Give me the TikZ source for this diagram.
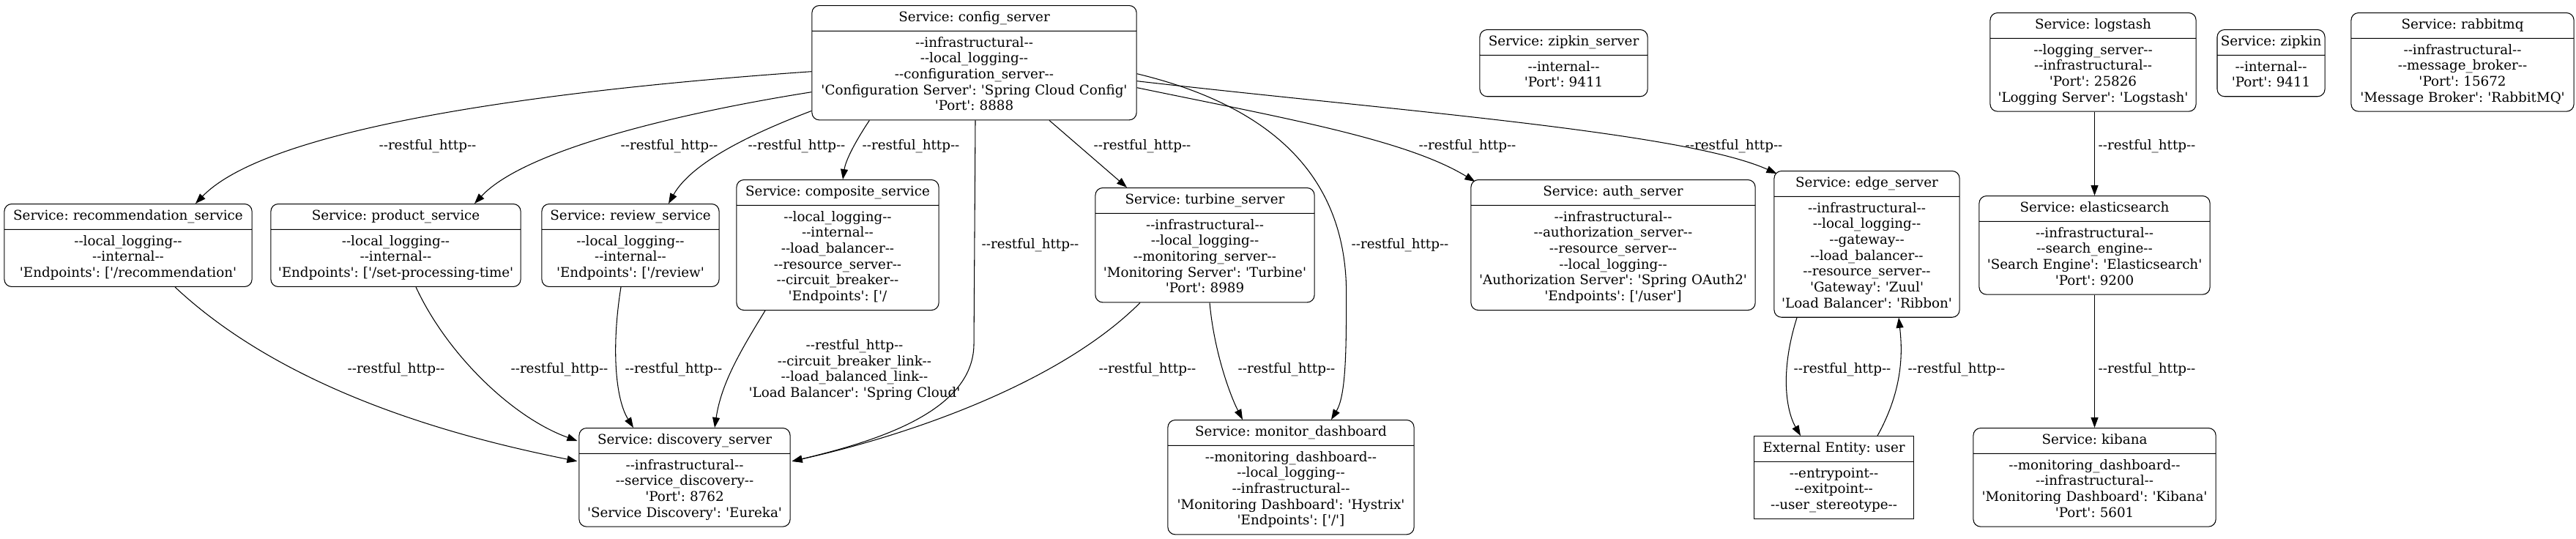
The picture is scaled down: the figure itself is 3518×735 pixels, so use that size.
\documentclass[tikz,border=0pt]{standalone}
\usepackage{fontspec}
\setmainfont{DejaVu Serif}[Ligatures=TeXOff]
\usetikzlibrary{shapes.multipart,arrows.meta,calc}
\newcommand\gvfont{\fontsize{5.2}{6.17}\selectfont\frenchspacing}

\begin{document}
\begin{tikzpicture}[x=0.01cm, y=-0.01cm,
  svc/.style={rectangle split, rectangle split parts=2, draw, line width=0.3pt,
    rounded corners=1mm, anchor=north, align=center, font=\gvfont,
    inner xsep=0.6mm, inner ysep=0.6mm},
  ext/.style={svc, sharp corners},
  lbl/.style={font=\gvfont, inner sep=0pt},
  link/.style={draw, line width=0.3pt, -{Triangle[length=1.4mm,width=1mm]}}]
\def\svc#1#2#3#4#5{\node[svc, text width=#3] (#1) at (#2) {\strut #4\strut\nodepart{two}\strut #5\strut};}
\useasboundingbox (0,0) rectangle (3518,735);

\svc{config}{1330.5,7}{4.31cm}{Service: config\_server}{--infrastructural--\\--local\_logging--\\--configuration\_server--\\'Configuration Server': 'Spring Cloud Config'\\'Port': 8888}
\svc{zipkinserver}{2135.5,40}{2.17cm}{Service: zipkin\_server}{--internal--\\'Port': 9411}
\svc{logstash}{2858.5,17}{2.69cm}{Service: logstash}{--logging\_server--\\--infrastructural--\\'Port': 25826\\'Logging Server': 'Logstash'}
\node[svc, text width=1.43cm, inner xsep=0.2mm] (zipkin) at (3101.5,40) {\strut Service: zipkin\strut\nodepart{two}\strut --internal--\\'Port': 9411\strut};
\svc{rabbitmq}{3363,17}{2.92cm}{Service: rabbitmq}{--infrastructural--\\--message\_broker--\\'Port': 15672\\'Message Broker': 'RabbitMQ'}

\svc{rec}{175,278}{3.26cm}{Service: recommendation\_service}{--local\_logging--\\--internal--\\'Endpoints': ['/recommendation'}
\svc{product}{540.5,278}{3.29cm}{Service: product\_service}{--local\_logging--\\--internal--\\'Endpoints': ['/set-processing-time'}
\svc{review}{861,278}{2.30cm}{Service: review\_service}{--local\_logging--\\--internal--\\'Endpoints': ['/review'}
\svc{composite}{1144,245}{2.64cm}{Service: composite\_service}{--local\_logging--\\--internal--\\--load\_balancer--\\--resource\_server--\\--circuit\_breaker--\\'Endpoints': ['/}
\svc{turbine}{1645.5,256}{2.87cm}{Service: turbine\_server}{--infrastructural--\\--local\_logging--\\--monitoring\_server--\\'Monitoring Server': 'Turbine'\\'Port': 8989}
\svc{auth}{2203,245}{3.76cm}{Service: auth\_server}{--infrastructural--\\--authorization\_server--\\--resource\_server--\\--local\_logging--\\'Authorization Server': 'Spring OAuth2'\\'Endpoints': ['/user']}
\svc{edge}{2549.5,233}{2.41cm}{Service: edge\_server}{--infrastructural--\\--local\_logging--\\--gateway--\\--load\_balancer--\\--resource\_server--\\'Gateway': 'Zuul'\\'Load Balancer': 'Ribbon'}
\svc{elasticsearch}{2860.5,267}{3.03cm}{Service: elasticsearch}{--infrastructural--\\--search\_engine--\\'Search Engine': 'Elasticsearch'\\'Port': 9200}

\svc{discovery}{935,584}{2.76cm}{Service: discovery\_server}{--infrastructural--\\--service\_discovery--\\'Port': 8762\\'Service Discovery': 'Eureka'}
\svc{monitor}{1763,573}{3.24cm}{Service: monitor\_dashboard}{--monitoring\_dashboard--\\--local\_logging--\\--infrastructural--\\'Monitoring Dashboard': 'Hystrix'\\'Endpoints': ['/']}
\node[ext, text width=2.05cm] (user) at (2504.5,595) {\strut External Entity: user\strut\nodepart{two}\strut --entrypoint--\\--exitpoint--\\--user\_stereotype--\strut};
\svc{kibana}{2860.5,584}{3.19cm}{Service: kibana}{--monitoring\_dashboard--\\--infrastructural--\\'Monitoring Dashboard': 'Kibana'\\'Port': 5601}

\draw[link] ($(config.west)+(0,12)$) .. controls +(-259,18) and +(113,-117) .. ($(rec.north)+(92,0)$);
\draw[link] ($(config.west)+(0,40)$) .. controls +(-159,25) and +(72,-77) .. ($(product.north)+(107.5,0)$);
\draw[link] ($(config.south west)+(0,-13)$) .. controls +(-79,30) and +(32,-57) .. ($(review.north)+(52,0)$);
\draw[link] ($(config.south west)+(79,0)$) .. controls +(-18,27) and +(4,-27) .. ($(composite.north)+(7,0)$);
\draw[link] ($(config.south)+(1.5,0)$) -- ++(-2,307) .. controls +(-2,90) and +(118,-28) .. ($(discovery.east)+(2,-22)$);
\draw[link] ($(config.south)+(102.5,0)$) -- ($(turbine.north)+(-106.5,0)$);
\draw[link] ($(config.east)+(0,15)$) .. controls +(208,50) and +(0,-140) .. ++(286,300) .. controls +(0,80) and +(20,-33) .. ($(monitor.north)+(55,0)$);
\draw[link] ($(config.east)+(0,34)$) .. controls +(198,41) and +(-95,-58) .. ($(auth.north west)+(6,3)$);
\draw[link] ($(config.east)+(0,25)$) .. controls +(348,40) and +(-127,-57) .. ($(edge.north west)+(4,4)$);

\draw[link] ($(rec.south)+(64,0)$) .. controls +(161,151) and +(-139,-28) .. ($(discovery.west)+(-2,-22)$);
\draw[link] ($(product.south)+(27.5,0)$) .. controls +(42,91) and +(-89,-32) .. ($(discovery.north west)+(-2,18)$);
\draw[link] ($(review.south)+(-13,0)$) .. controls +(-13,81) and +(-25,-40) .. ($(discovery.north)+(-70,0)$);
\draw[link] ($(composite.south)+(-99,0)$) .. controls +(-35,57) and +(9,-60) .. ($(discovery.north)+(41,0)$);
\draw[link] ($(turbine.south)+(-88.5,0)$) .. controls +(-107,107) and +(169,-38) .. ($(discovery.east)+(2,-22)$);
\draw[link] ($(turbine.south)+(6.5,0)$) .. controls +(6,67) and +(-17,-33) .. ($(monitor.north)+(-66,0)$);

\draw[link] ($(edge.south)+(-95.5,0)$) .. controls +(-24,76) and +(-19,-33) .. ($(user.north)+(-45.5,0)$);
\draw[link] ($(user.north)+(59.5,0)$) .. controls +(36,-65) and +(5,45) .. ($(edge.south)+(43.5,0)$);
\draw[link] (elasticsearch.north |- logstash.south) -- (elasticsearch.north);
\draw[link] (elasticsearch.south) -- (kibana.north);

\node[lbl] (lrec) at (584,200) {--restful\_http--};
\node[lbl] (lproduct) at (914,200) {--restful\_http--};
\node[lbl] (lreview) at (1088,200) {--restful\_http--};
\node[lbl] (lcomposite) at (1244,200) {--restful\_http--};
\node[lbl] (lturbine) at (1560,200) {--restful\_http--};
\node[lbl] (lauth) at (2004,200) {--restful\_http--};
\node[lbl] (ledge) at (2368,200) {--restful\_http--};
\node[lbl] (llogstash) at (2932,200) {--restful\_http--};
\node[lbl] (lconfigdisc) at (1407,335) {--restful\_http--};
\node[lbl] (lconfigmon) at (1912,335) {--restful\_http--};
\node[lbl] (lrecdisc) at (541,505) {--restful\_http--};
\node[lbl] (lproductdisc) at (764,505) {--restful\_http--};
\node[lbl] (lreviewdisc) at (920,505) {--restful\_http--};
\node[lbl, align=center] (lcompdisc) at (1167,505) {--restful\_http--\\--circuit\_breaker\_link--\\--load\_balanced\_link--\\'Load Balancer': 'Spring Cloud'};
\node[lbl] (lturbdisc) at (1567,505) {--restful\_http--};
\node[lbl] (lturbmon) at (1757,505) {--restful\_http--};
\node[lbl] (ledgeuser) at (2516,505) {--restful\_http--};
\node[lbl] (luseredge) at (2672,505) {--restful\_http--};
\node[lbl] (lkibana) at (2932,505) {--restful\_http--};
\end{tikzpicture}
\end{document}
